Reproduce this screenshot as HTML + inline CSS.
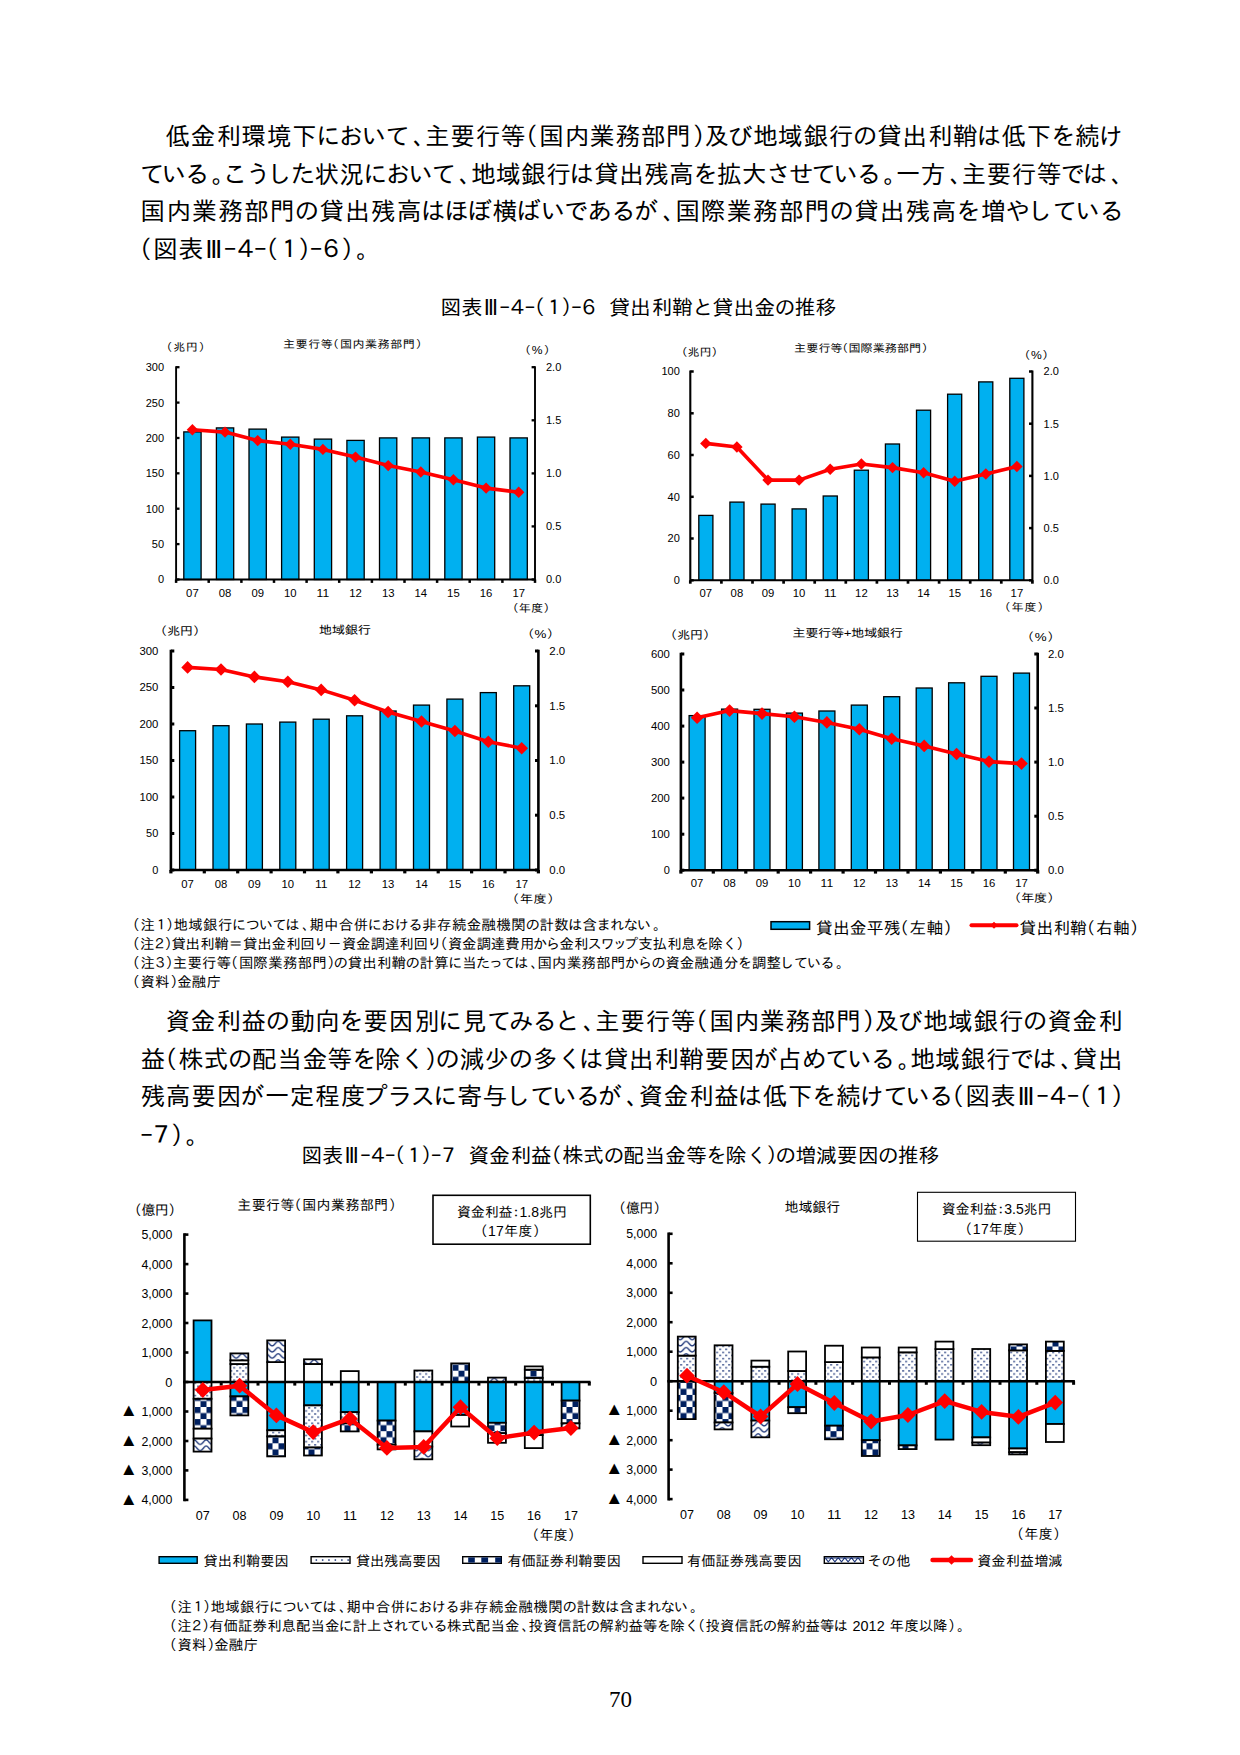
<!DOCTYPE html>
<html lang="ja"><head><meta charset="utf-8"><title>図表Ⅲ-4-(1)-6</title>
<style>html,body{margin:0;padding:0;background:#fff}svg{display:block}text{font-family:'Liberation Sans','IPAGothic',sans-serif;fill:#000;white-space:pre}</style></head>
<body><svg width="1240" height="1755" viewBox="0 0 1240 1755">
<defs>
<pattern id="pd" x="2.35" y="2.6" width="6" height="6.16" patternUnits="userSpaceOnUse"><rect width="6" height="6.16" fill="#fff"/><rect x="0" y="0" width="1.55" height="1.55" fill="#1b3478"/><rect x="3" y="3.08" width="1.55" height="1.55" fill="#1b3478"/></pattern>
<pattern id="pc" x="2.5" y="3.4" width="12" height="12.1" patternUnits="userSpaceOnUse"><rect width="12" height="12.1" fill="#fff"/><rect width="6" height="6.05" fill="#002060"/><rect x="6" y="6.05" width="6" height="6.05" fill="#002060"/></pattern>
<pattern id="pv" x="8.2" y="3.9" width="12" height="6.16" patternUnits="userSpaceOnUse"><rect width="12" height="6.16" fill="#fff"/><path d="M-6 0.7 C-3.6 0.7 -2.4 5.3 0 5.3 S3.6 0.7 6 0.7 S9.6 5.3 12 5.3 S15.6 0.7 18 0.7 M-6 6.86 C-3.6 6.86 -2.4 11.46 0 11.46 S3.6 6.86 6 6.86 S9.6 11.46 12 11.46 M0 -0.86 C2.4 -0.86 3.6 -5.46 6 -5.46 S9.6 -0.86 12 -0.86" fill="none" stroke="#1b3478" stroke-width="1.4"/></pattern>
</defs>
<text x="165.6 190.6 216.7 241.5 266.9 292.1 315.9 338.8 361.6 385.4 412.7 424.9 450.3 475.7 501.1 512.9 539.3 564.7 590.1 615.4 641.0 666.1 692.4 704.2 728.1 752.7 778.0 803.2 828.8 852.8 877.1 902.3 928.3 952.8 976.5 1001.5 1026.6 1050.7 1074.9 1098.5" y="145.4" font-size="24.80" fill="#000">低金利環境下において、主要行等（国内業務部門）及び地域銀行の貸出利鞘は低下を続け</text>
<text x="139.9 161.5 184.7 211.5 222.8 246.1 266.4 290.7 314.5 339.6 363.1 385.8 408.3 431.8 458.8 470.8 495.9 520.8 546.2 569.3 593.9 618.9 643.9 669.0 692.9 716.7 741.7 766.2 788.4 811.5 833.2 856.4 883.2 895.7 920.8 949.6 961.5 986.6 1011.8 1036.9 1060.5 1082.6 1110.8" y="182.9" font-size="24.80" fill="#000">ている。こうした状況において、地域銀行は貸出残高を拡大させている。一方、主要行等では、</text>
<text x="140.5 166.4 192.3 218.2 244.2 269.9 294.4 319.3 345.0 370.8 396.7 420.7 444.2 466.9 492.8 516.1 540.4 564.0 587.6 611.1 633.4 662.6 675.4 700.8 727.1 753.0 779.1 804.7 829.2 854.1 879.8 905.6 931.5 956.1 981.3 1005.6 1027.1 1052.8 1075.2 1099.2" y="220.4" font-size="24.80" fill="#000">国内業務部門の貸出残高はほぼ横ばいであるが、国際業務部門の貸出残高を増やしている</text>
<text x="127.1 153.3 178.7 205.2 224.1 233.7 254.2 253.6 277.0 298.1 309.9 318.8 341.1 356.1" y="257.9" font-size="24.80" fill="#000">（図表<tspan style="font-family:'DejaVu Sans',sans-serif">Ⅲ</tspan><tspan style="font-family:'IPAGothic',sans-serif">−</tspan>４<tspan style="font-family:'IPAGothic',sans-serif">−</tspan>（１）<tspan style="font-family:'IPAGothic',sans-serif">−</tspan>６）。</text>
<text x="165.6 190.6 216.7 241.3 265.4 289.9 315.0 339.1 363.2 388.6 414.5 437.7 462.2 486.9 508.8 532.3 555.0 582.7 595.0 620.3 645.8 671.1 683.0 709.4 734.7 760.1 785.5 811.0 836.2 862.5 874.3 898.1 922.7 948.1 973.3 998.9 1022.8 1047.3 1072.3 1098.4" y="1029.5" font-size="24.80" fill="#000">資金利益の動向を要因別に見てみると、主要行等（国内業務部門）及び地域銀行の資金利</text>
<text x="140.4 152.4 178.6 203.6 227.8 251.7 277.4 302.4 327.8 351.7 375.0 400.5 424.8 435.3 459.4 484.3 508.6 533.0 557.5 578.8 603.7 628.8 654.7 679.0 704.5 729.8 752.9 777.0 802.0 825.2 847.0 870.4 897.4 910.1 935.3 960.4 985.9 1009.7 1032.0 1060.3 1072.6 1097.7" y="1068.1" font-size="24.80" fill="#000">益（株式の配当金等を除く）の減少の多くは貸出利鞘要因が占めている。地域銀行では、貸出</text>
<text x="140.4 165.8 191.2 216.5 239.7 264.7 289.7 315.4 341.0 363.0 387.6 410.6 433.0 457.4 482.7 505.2 530.2 552.1 575.6 597.3 626.0 638.5 663.4 689.5 714.1 737.6 762.7 787.7 811.7 835.9 859.5 883.4 905.3 928.7 939.2 965.5 991.0 1017.5 1036.5 1046.3 1066.9 1066.4 1089.9 1111.1" y="1104.9" font-size="24.80" fill="#000">残高要因が一定程度プラスに寄与しているが、資金利益は低下を続けている（図表<tspan style="font-family:'DejaVu Sans',sans-serif">Ⅲ</tspan><tspan style="font-family:'IPAGothic',sans-serif">−</tspan>４<tspan style="font-family:'IPAGothic',sans-serif">−</tspan>（１）</text>
<text x="140.5 149.1 170.8 185.4" y="1144.0" font-size="24.80" fill="#000"><tspan style="font-family:'IPAGothic',sans-serif">−</tspan>７）。</text>
<text x="440.5 461.7 483.8 499.6 507.6 524.7 524.1 543.7 561.3 571.2 578.5 592.1 609.2 630.1 651.8 672.1 692.4 712.5 733.5 754.5 774.5 794.7 815.8" y="314.6" font-size="20.80" fill="#000">図表<tspan style="font-family:'DejaVu Sans',sans-serif">Ⅲ</tspan><tspan style="font-family:'IPAGothic',sans-serif">−</tspan>４<tspan style="font-family:'IPAGothic',sans-serif">−</tspan>（１）<tspan style="font-family:'IPAGothic',sans-serif">−</tspan>６　貸出利鞘と貸出金の推移</text>
<text x="301.5 322.6 344.5 360.2 368.1 385.0 384.3 403.7 421.2 430.9 438.3 451.5 468.5 489.2 510.8 531.1 540.8 562.6 583.3 603.4 623.2 644.5 665.2 686.2 706.0 725.4 746.5 766.6 775.2 795.6 816.1 837.0 858.0 877.8 897.9 918.8" y="1163.2" font-size="20.80" fill="#000">図表<tspan style="font-family:'DejaVu Sans',sans-serif">Ⅲ</tspan><tspan style="font-family:'IPAGothic',sans-serif">−</tspan>４<tspan style="font-family:'IPAGothic',sans-serif">−</tspan>（１）<tspan style="font-family:'IPAGothic',sans-serif">−</tspan>７　資金利益（株式の配当金等を除く）の増減要因の推移</text>
<rect x="183.8" y="431.9" width="17.3" height="147.6" fill="#00B0F0" stroke="#000" stroke-width="1.3"/>
<rect x="216.4" y="427.9" width="17.3" height="151.6" fill="#00B0F0" stroke="#000" stroke-width="1.3"/>
<rect x="249.0" y="429.1" width="17.3" height="150.4" fill="#00B0F0" stroke="#000" stroke-width="1.3"/>
<rect x="281.6" y="437.1" width="17.3" height="142.4" fill="#00B0F0" stroke="#000" stroke-width="1.3"/>
<rect x="314.3" y="439.1" width="17.3" height="140.4" fill="#00B0F0" stroke="#000" stroke-width="1.3"/>
<rect x="346.9" y="440.4" width="17.3" height="139.1" fill="#00B0F0" stroke="#000" stroke-width="1.3"/>
<rect x="379.5" y="437.9" width="17.3" height="141.6" fill="#00B0F0" stroke="#000" stroke-width="1.3"/>
<rect x="412.2" y="437.9" width="17.3" height="141.6" fill="#00B0F0" stroke="#000" stroke-width="1.3"/>
<rect x="444.8" y="437.9" width="17.3" height="141.6" fill="#00B0F0" stroke="#000" stroke-width="1.3"/>
<rect x="477.4" y="437.1" width="17.3" height="142.4" fill="#00B0F0" stroke="#000" stroke-width="1.3"/>
<rect x="510.0" y="437.9" width="17.3" height="141.6" fill="#00B0F0" stroke="#000" stroke-width="1.3"/>
<path d="M176.1 366.2 V579.5 H535.0 V366.2" fill="none" stroke="#000" stroke-width="1.9"/>
<path d="M176.1 579.5 h3.4" stroke="#000" stroke-width="2.3"/>
<text x="164.1" y="583.4" font-size="11.00" text-anchor="end" fill="#000">0</text>
<path d="M176.1 544.1 h3.4" stroke="#000" stroke-width="2.3"/>
<text x="164.1" y="548.0" font-size="11.00" text-anchor="end" fill="#000">50</text>
<path d="M176.1 508.7 h3.4" stroke="#000" stroke-width="2.3"/>
<text x="164.1" y="512.6" font-size="11.00" text-anchor="end" fill="#000">100</text>
<path d="M176.1 473.3 h3.4" stroke="#000" stroke-width="2.3"/>
<text x="164.1" y="477.2" font-size="11.00" text-anchor="end" fill="#000">150</text>
<path d="M176.1 438.0 h3.4" stroke="#000" stroke-width="2.3"/>
<text x="164.1" y="441.9" font-size="11.00" text-anchor="end" fill="#000">200</text>
<path d="M176.1 402.6 h3.4" stroke="#000" stroke-width="2.3"/>
<text x="164.1" y="406.5" font-size="11.00" text-anchor="end" fill="#000">250</text>
<path d="M176.1 367.2 h3.4" stroke="#000" stroke-width="2.3"/>
<text x="164.1" y="371.1" font-size="11.00" text-anchor="end" fill="#000">300</text>
<path d="M535.0 579.5 h-3.4" stroke="#000" stroke-width="2.3"/>
<text x="546.0" y="583.4" font-size="11.00" fill="#000">0.0</text>
<path d="M535.0 526.4 h-3.4" stroke="#000" stroke-width="2.3"/>
<text x="546.0" y="530.3" font-size="11.00" fill="#000">0.5</text>
<path d="M535.0 473.4 h-3.4" stroke="#000" stroke-width="2.3"/>
<text x="546.0" y="477.2" font-size="11.00" fill="#000">1.0</text>
<path d="M535.0 420.3 h-3.4" stroke="#000" stroke-width="2.3"/>
<text x="546.0" y="424.2" font-size="11.00" fill="#000">1.5</text>
<path d="M535.0 367.2 h-3.4" stroke="#000" stroke-width="2.3"/>
<text x="546.0" y="371.1" font-size="11.00" fill="#000">2.0</text>
<path d="M176.1 579.5 v3.4" stroke="#000" stroke-width="2.5"/>
<path d="M208.7 579.5 v3.4" stroke="#000" stroke-width="2.5"/>
<path d="M241.4 579.5 v3.4" stroke="#000" stroke-width="2.5"/>
<path d="M274.0 579.5 v3.4" stroke="#000" stroke-width="2.5"/>
<path d="M306.6 579.5 v3.4" stroke="#000" stroke-width="2.5"/>
<path d="M339.2 579.5 v3.4" stroke="#000" stroke-width="2.5"/>
<path d="M371.9 579.5 v3.4" stroke="#000" stroke-width="2.5"/>
<path d="M404.5 579.5 v3.4" stroke="#000" stroke-width="2.5"/>
<path d="M437.1 579.5 v3.4" stroke="#000" stroke-width="2.5"/>
<path d="M469.7 579.5 v3.4" stroke="#000" stroke-width="2.5"/>
<path d="M502.4 579.5 v3.4" stroke="#000" stroke-width="2.5"/>
<path d="M535.0 579.5 v3.4" stroke="#000" stroke-width="2.5"/>
<text x="192.4" y="597.0" font-size="11.00" text-anchor="middle" textLength="12.6" lengthAdjust="spacingAndGlyphs" fill="#000">07</text>
<text x="225.0" y="597.0" font-size="11.00" text-anchor="middle" textLength="12.6" lengthAdjust="spacingAndGlyphs" fill="#000">08</text>
<text x="257.7" y="597.0" font-size="11.00" text-anchor="middle" textLength="12.6" lengthAdjust="spacingAndGlyphs" fill="#000">09</text>
<text x="290.3" y="597.0" font-size="11.00" text-anchor="middle" textLength="12.6" lengthAdjust="spacingAndGlyphs" fill="#000">10</text>
<text x="322.9" y="597.0" font-size="11.00" text-anchor="middle" textLength="12.6" lengthAdjust="spacingAndGlyphs" fill="#000">11</text>
<text x="355.5" y="597.0" font-size="11.00" text-anchor="middle" textLength="12.6" lengthAdjust="spacingAndGlyphs" fill="#000">12</text>
<text x="388.2" y="597.0" font-size="11.00" text-anchor="middle" textLength="12.6" lengthAdjust="spacingAndGlyphs" fill="#000">13</text>
<text x="420.8" y="597.0" font-size="11.00" text-anchor="middle" textLength="12.6" lengthAdjust="spacingAndGlyphs" fill="#000">14</text>
<text x="453.4" y="597.0" font-size="11.00" text-anchor="middle" textLength="12.6" lengthAdjust="spacingAndGlyphs" fill="#000">15</text>
<text x="486.1" y="597.0" font-size="11.00" text-anchor="middle" textLength="12.6" lengthAdjust="spacingAndGlyphs" fill="#000">16</text>
<text x="518.7" y="597.0" font-size="11.00" text-anchor="middle" textLength="12.6" lengthAdjust="spacingAndGlyphs" fill="#000">17</text>
<polyline points="192.4,429.7 225.0,432.1 257.7,440.6 290.3,444.2 322.9,449.4 355.5,457.1 388.2,465.6 420.8,472.0 453.4,479.7 486.1,488.1 518.7,492.2" fill="none" stroke="#FF0000" stroke-width="3.6" stroke-linejoin="round" stroke-linecap="round"/>
<path d="M186.7 429.7 L192.4 424.0 L198.1 429.7 L192.4 435.4Z" fill="#FF0000"/>
<path d="M219.3 432.1 L225.0 426.4 L230.7 432.1 L225.0 437.8Z" fill="#FF0000"/>
<path d="M252.0 440.6 L257.7 434.9 L263.4 440.6 L257.7 446.3Z" fill="#FF0000"/>
<path d="M284.6 444.2 L290.3 438.5 L296.0 444.2 L290.3 449.9Z" fill="#FF0000"/>
<path d="M317.2 449.4 L322.9 443.7 L328.6 449.4 L322.9 455.1Z" fill="#FF0000"/>
<path d="M349.8 457.1 L355.5 451.4 L361.2 457.1 L355.5 462.8Z" fill="#FF0000"/>
<path d="M382.5 465.6 L388.2 459.9 L393.9 465.6 L388.2 471.3Z" fill="#FF0000"/>
<path d="M415.1 472.0 L420.8 466.3 L426.5 472.0 L420.8 477.7Z" fill="#FF0000"/>
<path d="M447.7 479.7 L453.4 474.0 L459.1 479.7 L453.4 485.4Z" fill="#FF0000"/>
<path d="M480.4 488.1 L486.1 482.4 L491.8 488.1 L486.1 493.8Z" fill="#FF0000"/>
<path d="M513.0 492.2 L518.7 486.5 L524.4 492.2 L518.7 497.9Z" fill="#FF0000"/>
<text x="145.6 157.5 168.9 180.8" y="351.0" font-size="11.00" fill="#000" transform="scale(1.100 1)">（兆円）</text>
<text x="257.3 268.7 280.2 291.6 297.1 309.0 320.4 331.9 343.3 354.8 366.2 378.0" y="348.5" font-size="11.00" fill="#000" transform="scale(1.100 1)">主要行等（国内業務部門）</text>
<text x="471.5 483.5 494.3" y="354.0" font-size="11.00" fill="#000" transform="scale(1.100 1)">（%）</text>
<text x="460.4 471.7 482.9 494.0" y="612.0" font-size="11.00" fill="#000" transform="scale(1.100 1)">（年度）</text>
<rect x="698.8" y="515.4" width="14.1" height="64.9" fill="#00B0F0" stroke="#000" stroke-width="1.3"/>
<rect x="729.9" y="502.1" width="14.1" height="78.2" fill="#00B0F0" stroke="#000" stroke-width="1.3"/>
<rect x="761.0" y="504.1" width="14.1" height="76.2" fill="#00B0F0" stroke="#000" stroke-width="1.3"/>
<rect x="792.1" y="508.9" width="14.1" height="71.4" fill="#00B0F0" stroke="#000" stroke-width="1.3"/>
<rect x="823.2" y="496.0" width="14.1" height="84.3" fill="#00B0F0" stroke="#000" stroke-width="1.3"/>
<rect x="854.3" y="470.2" width="14.1" height="110.1" fill="#00B0F0" stroke="#000" stroke-width="1.3"/>
<rect x="885.4" y="444.0" width="14.1" height="136.3" fill="#00B0F0" stroke="#000" stroke-width="1.3"/>
<rect x="916.5" y="410.2" width="14.1" height="170.1" fill="#00B0F0" stroke="#000" stroke-width="1.3"/>
<rect x="947.6" y="394.2" width="14.1" height="186.1" fill="#00B0F0" stroke="#000" stroke-width="1.3"/>
<rect x="978.7" y="381.9" width="14.1" height="198.4" fill="#00B0F0" stroke="#000" stroke-width="1.3"/>
<rect x="1009.8" y="378.3" width="14.1" height="202.0" fill="#00B0F0" stroke="#000" stroke-width="1.3"/>
<path d="M690.3 370.4 V580.3 H1032.4 V370.4" fill="none" stroke="#000" stroke-width="2.1"/>
<path d="M690.3 580.3 h3.4" stroke="#000" stroke-width="2.5"/>
<text x="679.8" y="584.2" font-size="11.00" text-anchor="end" fill="#000">0</text>
<path d="M690.3 538.5 h3.4" stroke="#000" stroke-width="2.5"/>
<text x="679.8" y="542.4" font-size="11.00" text-anchor="end" fill="#000">20</text>
<path d="M690.3 496.8 h3.4" stroke="#000" stroke-width="2.5"/>
<text x="679.8" y="500.7" font-size="11.00" text-anchor="end" fill="#000">40</text>
<path d="M690.3 455.0 h3.4" stroke="#000" stroke-width="2.5"/>
<text x="679.8" y="458.9" font-size="11.00" text-anchor="end" fill="#000">60</text>
<path d="M690.3 413.3 h3.4" stroke="#000" stroke-width="2.5"/>
<text x="679.8" y="417.2" font-size="11.00" text-anchor="end" fill="#000">80</text>
<path d="M690.3 371.5 h3.4" stroke="#000" stroke-width="2.5"/>
<text x="679.8" y="375.4" font-size="11.00" text-anchor="end" fill="#000">100</text>
<path d="M1032.4 580.3 h-3.4" stroke="#000" stroke-width="2.5"/>
<text x="1043.6" y="584.2" font-size="11.00" fill="#000">0.0</text>
<path d="M1032.4 528.1 h-3.4" stroke="#000" stroke-width="2.5"/>
<text x="1043.6" y="532.0" font-size="11.00" fill="#000">0.5</text>
<path d="M1032.4 475.9 h-3.4" stroke="#000" stroke-width="2.5"/>
<text x="1043.6" y="479.8" font-size="11.00" fill="#000">1.0</text>
<path d="M1032.4 423.7 h-3.4" stroke="#000" stroke-width="2.5"/>
<text x="1043.6" y="427.6" font-size="11.00" fill="#000">1.5</text>
<path d="M1032.4 371.5 h-3.4" stroke="#000" stroke-width="2.5"/>
<text x="1043.6" y="375.4" font-size="11.00" fill="#000">2.0</text>
<path d="M690.3 580.3 v3.4" stroke="#000" stroke-width="2.7"/>
<path d="M721.4 580.3 v3.4" stroke="#000" stroke-width="2.7"/>
<path d="M752.5 580.3 v3.4" stroke="#000" stroke-width="2.7"/>
<path d="M783.6 580.3 v3.4" stroke="#000" stroke-width="2.7"/>
<path d="M814.7 580.3 v3.4" stroke="#000" stroke-width="2.7"/>
<path d="M845.8 580.3 v3.4" stroke="#000" stroke-width="2.7"/>
<path d="M876.9 580.3 v3.4" stroke="#000" stroke-width="2.7"/>
<path d="M908.0 580.3 v3.4" stroke="#000" stroke-width="2.7"/>
<path d="M939.1 580.3 v3.4" stroke="#000" stroke-width="2.7"/>
<path d="M970.2 580.3 v3.4" stroke="#000" stroke-width="2.7"/>
<path d="M1001.3 580.3 v3.4" stroke="#000" stroke-width="2.7"/>
<path d="M1032.4 580.3 v3.4" stroke="#000" stroke-width="2.7"/>
<text x="705.8" y="597.4" font-size="11.00" text-anchor="middle" textLength="12.6" lengthAdjust="spacingAndGlyphs" fill="#000">07</text>
<text x="736.9" y="597.4" font-size="11.00" text-anchor="middle" textLength="12.6" lengthAdjust="spacingAndGlyphs" fill="#000">08</text>
<text x="768.0" y="597.4" font-size="11.00" text-anchor="middle" textLength="12.6" lengthAdjust="spacingAndGlyphs" fill="#000">09</text>
<text x="799.1" y="597.4" font-size="11.00" text-anchor="middle" textLength="12.6" lengthAdjust="spacingAndGlyphs" fill="#000">10</text>
<text x="830.2" y="597.4" font-size="11.00" text-anchor="middle" textLength="12.6" lengthAdjust="spacingAndGlyphs" fill="#000">11</text>
<text x="861.4" y="597.4" font-size="11.00" text-anchor="middle" textLength="12.6" lengthAdjust="spacingAndGlyphs" fill="#000">12</text>
<text x="892.5" y="597.4" font-size="11.00" text-anchor="middle" textLength="12.6" lengthAdjust="spacingAndGlyphs" fill="#000">13</text>
<text x="923.6" y="597.4" font-size="11.00" text-anchor="middle" textLength="12.6" lengthAdjust="spacingAndGlyphs" fill="#000">14</text>
<text x="954.7" y="597.4" font-size="11.00" text-anchor="middle" textLength="12.6" lengthAdjust="spacingAndGlyphs" fill="#000">15</text>
<text x="985.8" y="597.4" font-size="11.00" text-anchor="middle" textLength="12.6" lengthAdjust="spacingAndGlyphs" fill="#000">16</text>
<text x="1016.9" y="597.4" font-size="11.00" text-anchor="middle" textLength="12.6" lengthAdjust="spacingAndGlyphs" fill="#000">17</text>
<polyline points="705.8,443.4 736.9,447.0 768.0,480.1 799.1,480.1 830.2,469.2 861.4,464.0 892.5,467.6 923.6,472.8 954.7,481.3 985.8,474.0 1016.9,466.5" fill="none" stroke="#FF0000" stroke-width="3.6" stroke-linejoin="round" stroke-linecap="round"/>
<path d="M700.1 443.4 L705.8 437.7 L711.5 443.4 L705.8 449.1Z" fill="#FF0000"/>
<path d="M731.2 447.0 L736.9 441.3 L742.6 447.0 L736.9 452.7Z" fill="#FF0000"/>
<path d="M762.3 480.1 L768.0 474.4 L773.8 480.1 L768.0 485.8Z" fill="#FF0000"/>
<path d="M793.4 480.1 L799.1 474.4 L804.9 480.1 L799.1 485.8Z" fill="#FF0000"/>
<path d="M824.5 469.2 L830.2 463.5 L836.0 469.2 L830.2 474.9Z" fill="#FF0000"/>
<path d="M855.6 464.0 L861.4 458.3 L867.1 464.0 L861.4 469.7Z" fill="#FF0000"/>
<path d="M886.8 467.6 L892.5 461.9 L898.2 467.6 L892.5 473.3Z" fill="#FF0000"/>
<path d="M917.9 472.8 L923.6 467.1 L929.3 472.8 L923.6 478.5Z" fill="#FF0000"/>
<path d="M949.0 481.3 L954.7 475.6 L960.4 481.3 L954.7 487.0Z" fill="#FF0000"/>
<path d="M980.0 474.0 L985.8 468.3 L991.5 474.0 L985.8 479.7Z" fill="#FF0000"/>
<path d="M1011.2 466.5 L1016.9 460.8 L1022.6 466.5 L1016.9 472.2Z" fill="#FF0000"/>
<text x="614.0 625.1 635.8 646.9" y="355.6" font-size="11.00" fill="#000" transform="scale(1.100 1)">（兆円）</text>
<text x="721.9 732.9 744.0 755.0 760.0 771.4 782.2 793.4 804.4 815.5 826.4 837.9" y="352.4" font-size="11.00" fill="#000" transform="scale(1.100 1)">主要行等（国際業務部門）</text>
<text x="925.6 937.2 947.5" y="359.4" font-size="11.00" fill="#000" transform="scale(1.100 1)">（%）</text>
<text x="907.7 919.5 931.3 943.1" y="611.0" font-size="11.00" fill="#000" transform="scale(1.100 1)">（年度）</text>
<rect x="179.6" y="730.7" width="16.0" height="139.3" fill="#00B0F0" stroke="#000" stroke-width="1.3"/>
<rect x="213.0" y="725.7" width="16.0" height="144.3" fill="#00B0F0" stroke="#000" stroke-width="1.3"/>
<rect x="246.4" y="724.0" width="16.0" height="146.0" fill="#00B0F0" stroke="#000" stroke-width="1.3"/>
<rect x="279.8" y="722.1" width="16.0" height="147.9" fill="#00B0F0" stroke="#000" stroke-width="1.3"/>
<rect x="313.2" y="719.2" width="16.0" height="150.8" fill="#00B0F0" stroke="#000" stroke-width="1.3"/>
<rect x="346.6" y="715.8" width="16.0" height="154.2" fill="#00B0F0" stroke="#000" stroke-width="1.3"/>
<rect x="380.1" y="711.0" width="16.0" height="159.0" fill="#00B0F0" stroke="#000" stroke-width="1.3"/>
<rect x="413.5" y="705.1" width="16.0" height="164.9" fill="#00B0F0" stroke="#000" stroke-width="1.3"/>
<rect x="446.9" y="699.1" width="16.0" height="170.9" fill="#00B0F0" stroke="#000" stroke-width="1.3"/>
<rect x="480.3" y="692.6" width="16.0" height="177.4" fill="#00B0F0" stroke="#000" stroke-width="1.3"/>
<rect x="513.7" y="685.8" width="16.0" height="184.2" fill="#00B0F0" stroke="#000" stroke-width="1.3"/>
<path d="M170.9 649.7 V870.0 H538.4 V649.7" fill="none" stroke="#000" stroke-width="2.6"/>
<path d="M170.9 870.0 h3.4" stroke="#000" stroke-width="3.0"/>
<text x="158.3" y="873.9" font-size="11.00" text-anchor="end" fill="#000">0</text>
<path d="M170.9 833.5 h3.4" stroke="#000" stroke-width="3.0"/>
<text x="158.3" y="837.4" font-size="11.00" text-anchor="end" fill="#000">50</text>
<path d="M170.9 797.0 h3.4" stroke="#000" stroke-width="3.0"/>
<text x="158.3" y="800.9" font-size="11.00" text-anchor="end" textLength="18.9" lengthAdjust="spacingAndGlyphs" fill="#000">100</text>
<path d="M170.9 760.5 h3.4" stroke="#000" stroke-width="3.0"/>
<text x="158.3" y="764.4" font-size="11.00" text-anchor="end" textLength="18.9" lengthAdjust="spacingAndGlyphs" fill="#000">150</text>
<path d="M170.9 724.0 h3.4" stroke="#000" stroke-width="3.0"/>
<text x="158.3" y="727.9" font-size="11.00" text-anchor="end" textLength="18.9" lengthAdjust="spacingAndGlyphs" fill="#000">200</text>
<path d="M170.9 687.5 h3.4" stroke="#000" stroke-width="3.0"/>
<text x="158.3" y="691.4" font-size="11.00" text-anchor="end" textLength="18.9" lengthAdjust="spacingAndGlyphs" fill="#000">250</text>
<path d="M170.9 651.0 h3.4" stroke="#000" stroke-width="3.0"/>
<text x="158.3" y="654.9" font-size="11.00" text-anchor="end" textLength="18.9" lengthAdjust="spacingAndGlyphs" fill="#000">300</text>
<path d="M538.4 870.0 h-3.4" stroke="#000" stroke-width="3.0"/>
<text x="549.3" y="873.9" font-size="11.00" textLength="15.9" lengthAdjust="spacingAndGlyphs" fill="#000">0.0</text>
<path d="M538.4 815.2 h-3.4" stroke="#000" stroke-width="3.0"/>
<text x="549.3" y="819.1" font-size="11.00" textLength="15.9" lengthAdjust="spacingAndGlyphs" fill="#000">0.5</text>
<path d="M538.4 760.5 h-3.4" stroke="#000" stroke-width="3.0"/>
<text x="549.3" y="764.4" font-size="11.00" textLength="15.9" lengthAdjust="spacingAndGlyphs" fill="#000">1.0</text>
<path d="M538.4 705.8 h-3.4" stroke="#000" stroke-width="3.0"/>
<text x="549.3" y="709.6" font-size="11.00" textLength="15.9" lengthAdjust="spacingAndGlyphs" fill="#000">1.5</text>
<path d="M538.4 651.0 h-3.4" stroke="#000" stroke-width="3.0"/>
<text x="549.3" y="654.9" font-size="11.00" textLength="15.9" lengthAdjust="spacingAndGlyphs" fill="#000">2.0</text>
<path d="M170.9 870.0 v3.4" stroke="#000" stroke-width="3.2"/>
<path d="M204.3 870.0 v3.4" stroke="#000" stroke-width="3.2"/>
<path d="M237.7 870.0 v3.4" stroke="#000" stroke-width="3.2"/>
<path d="M271.1 870.0 v3.4" stroke="#000" stroke-width="3.2"/>
<path d="M304.5 870.0 v3.4" stroke="#000" stroke-width="3.2"/>
<path d="M337.9 870.0 v3.4" stroke="#000" stroke-width="3.2"/>
<path d="M371.4 870.0 v3.4" stroke="#000" stroke-width="3.2"/>
<path d="M404.8 870.0 v3.4" stroke="#000" stroke-width="3.2"/>
<path d="M438.2 870.0 v3.4" stroke="#000" stroke-width="3.2"/>
<path d="M471.6 870.0 v3.4" stroke="#000" stroke-width="3.2"/>
<path d="M505.0 870.0 v3.4" stroke="#000" stroke-width="3.2"/>
<path d="M538.4 870.0 v3.4" stroke="#000" stroke-width="3.2"/>
<text x="187.6" y="888.2" font-size="11.00" text-anchor="middle" textLength="12.6" lengthAdjust="spacingAndGlyphs" fill="#000">07</text>
<text x="221.0" y="888.2" font-size="11.00" text-anchor="middle" textLength="12.6" lengthAdjust="spacingAndGlyphs" fill="#000">08</text>
<text x="254.4" y="888.2" font-size="11.00" text-anchor="middle" textLength="12.6" lengthAdjust="spacingAndGlyphs" fill="#000">09</text>
<text x="287.8" y="888.2" font-size="11.00" text-anchor="middle" textLength="12.6" lengthAdjust="spacingAndGlyphs" fill="#000">10</text>
<text x="321.2" y="888.2" font-size="11.00" text-anchor="middle" textLength="12.6" lengthAdjust="spacingAndGlyphs" fill="#000">11</text>
<text x="354.6" y="888.2" font-size="11.00" text-anchor="middle" textLength="12.6" lengthAdjust="spacingAndGlyphs" fill="#000">12</text>
<text x="388.1" y="888.2" font-size="11.00" text-anchor="middle" textLength="12.6" lengthAdjust="spacingAndGlyphs" fill="#000">13</text>
<text x="421.5" y="888.2" font-size="11.00" text-anchor="middle" textLength="12.6" lengthAdjust="spacingAndGlyphs" fill="#000">14</text>
<text x="454.9" y="888.2" font-size="11.00" text-anchor="middle" textLength="12.6" lengthAdjust="spacingAndGlyphs" fill="#000">15</text>
<text x="488.3" y="888.2" font-size="11.00" text-anchor="middle" textLength="12.6" lengthAdjust="spacingAndGlyphs" fill="#000">16</text>
<text x="521.7" y="888.2" font-size="11.00" text-anchor="middle" textLength="12.6" lengthAdjust="spacingAndGlyphs" fill="#000">17</text>
<polyline points="187.6,667.4 221.0,669.5 254.4,676.9 287.8,681.7 321.2,689.9 354.6,700.3 388.1,712.0 421.5,721.5 454.9,731.0 488.3,741.7 521.7,748.2" fill="none" stroke="#FF0000" stroke-width="3.6" stroke-linejoin="round" stroke-linecap="round"/>
<path d="M181.3 667.4 L187.6 661.1 L193.9 667.4 L187.6 673.7Z" fill="#FF0000"/>
<path d="M214.7 669.5 L221.0 663.2 L227.3 669.5 L221.0 675.8Z" fill="#FF0000"/>
<path d="M248.1 676.9 L254.4 670.6 L260.7 676.9 L254.4 683.2Z" fill="#FF0000"/>
<path d="M281.5 681.7 L287.8 675.4 L294.1 681.7 L287.8 688.0Z" fill="#FF0000"/>
<path d="M314.9 689.9 L321.2 683.6 L327.5 689.9 L321.2 696.2Z" fill="#FF0000"/>
<path d="M348.3 700.3 L354.6 694.0 L360.9 700.3 L354.6 706.6Z" fill="#FF0000"/>
<path d="M381.8 712.0 L388.1 705.7 L394.4 712.0 L388.1 718.3Z" fill="#FF0000"/>
<path d="M415.2 721.5 L421.5 715.2 L427.8 721.5 L421.5 727.8Z" fill="#FF0000"/>
<path d="M448.6 731.0 L454.9 724.7 L461.2 731.0 L454.9 737.3Z" fill="#FF0000"/>
<path d="M482.0 741.7 L488.3 735.4 L494.6 741.7 L488.3 748.0Z" fill="#FF0000"/>
<path d="M515.4 748.2 L521.7 741.9 L528.0 748.2 L521.7 754.5Z" fill="#FF0000"/>
<text x="133.7 145.3 156.4 167.9" y="635.5" font-size="11.60" fill="#000" transform="scale(1.150 1)">（兆円）</text>
<text x="277.2 288.5 299.7 311.2" y="633.9" font-size="11.60" fill="#000" transform="scale(1.150 1)">地域銀行</text>
<text x="453.1 464.9 475.4" y="638.0" font-size="11.60" fill="#000" transform="scale(1.150 1)">（%）</text>
<text x="439.8 451.9 463.9 475.9" y="903.5" font-size="11.60" fill="#000" transform="scale(1.150 1)">（年度）</text>
<rect x="689.1" y="715.6" width="16.0" height="154.6" fill="#00B0F0" stroke="#000" stroke-width="1.3"/>
<rect x="721.6" y="709.1" width="16.0" height="161.1" fill="#00B0F0" stroke="#000" stroke-width="1.3"/>
<rect x="754.0" y="709.3" width="16.0" height="160.9" fill="#00B0F0" stroke="#000" stroke-width="1.3"/>
<rect x="786.4" y="713.1" width="16.0" height="157.1" fill="#00B0F0" stroke="#000" stroke-width="1.3"/>
<rect x="818.9" y="711.0" width="16.0" height="159.2" fill="#00B0F0" stroke="#000" stroke-width="1.3"/>
<rect x="851.3" y="705.1" width="16.0" height="165.1" fill="#00B0F0" stroke="#000" stroke-width="1.3"/>
<rect x="883.7" y="696.7" width="16.0" height="173.5" fill="#00B0F0" stroke="#000" stroke-width="1.3"/>
<rect x="916.2" y="688.0" width="16.0" height="182.2" fill="#00B0F0" stroke="#000" stroke-width="1.3"/>
<rect x="948.6" y="682.8" width="16.0" height="187.4" fill="#00B0F0" stroke="#000" stroke-width="1.3"/>
<rect x="981.0" y="676.3" width="16.0" height="193.9" fill="#00B0F0" stroke="#000" stroke-width="1.3"/>
<rect x="1013.5" y="673.1" width="16.0" height="197.1" fill="#00B0F0" stroke="#000" stroke-width="1.3"/>
<path d="M680.9 652.7 V870.2 H1037.7 V652.7" fill="none" stroke="#000" stroke-width="2.6"/>
<path d="M680.9 870.2 h3.4" stroke="#000" stroke-width="3.0"/>
<text x="669.8" y="874.1" font-size="11.00" text-anchor="end" fill="#000">0</text>
<path d="M680.9 834.2 h3.4" stroke="#000" stroke-width="3.0"/>
<text x="669.8" y="838.1" font-size="11.00" text-anchor="end" textLength="18.9" lengthAdjust="spacingAndGlyphs" fill="#000">100</text>
<path d="M680.9 798.1 h3.4" stroke="#000" stroke-width="3.0"/>
<text x="669.8" y="802.0" font-size="11.00" text-anchor="end" textLength="18.9" lengthAdjust="spacingAndGlyphs" fill="#000">200</text>
<path d="M680.9 762.1 h3.4" stroke="#000" stroke-width="3.0"/>
<text x="669.8" y="766.0" font-size="11.00" text-anchor="end" textLength="18.9" lengthAdjust="spacingAndGlyphs" fill="#000">300</text>
<path d="M680.9 726.1 h3.4" stroke="#000" stroke-width="3.0"/>
<text x="669.8" y="730.0" font-size="11.00" text-anchor="end" textLength="18.9" lengthAdjust="spacingAndGlyphs" fill="#000">400</text>
<path d="M680.9 690.0 h3.4" stroke="#000" stroke-width="3.0"/>
<text x="669.8" y="693.9" font-size="11.00" text-anchor="end" textLength="18.9" lengthAdjust="spacingAndGlyphs" fill="#000">500</text>
<path d="M680.9 654.0 h3.4" stroke="#000" stroke-width="3.0"/>
<text x="669.8" y="657.9" font-size="11.00" text-anchor="end" textLength="18.9" lengthAdjust="spacingAndGlyphs" fill="#000">600</text>
<path d="M1037.7 870.2 h-3.4" stroke="#000" stroke-width="3.0"/>
<text x="1048.0" y="874.1" font-size="11.00" textLength="15.9" lengthAdjust="spacingAndGlyphs" fill="#000">0.0</text>
<path d="M1037.7 816.2 h-3.4" stroke="#000" stroke-width="3.0"/>
<text x="1048.0" y="820.1" font-size="11.00" textLength="15.9" lengthAdjust="spacingAndGlyphs" fill="#000">0.5</text>
<path d="M1037.7 762.1 h-3.4" stroke="#000" stroke-width="3.0"/>
<text x="1048.0" y="766.0" font-size="11.00" textLength="15.9" lengthAdjust="spacingAndGlyphs" fill="#000">1.0</text>
<path d="M1037.7 708.0 h-3.4" stroke="#000" stroke-width="3.0"/>
<text x="1048.0" y="711.9" font-size="11.00" textLength="15.9" lengthAdjust="spacingAndGlyphs" fill="#000">1.5</text>
<path d="M1037.7 654.0 h-3.4" stroke="#000" stroke-width="3.0"/>
<text x="1048.0" y="657.9" font-size="11.00" textLength="15.9" lengthAdjust="spacingAndGlyphs" fill="#000">2.0</text>
<path d="M680.9 870.2 v3.4" stroke="#000" stroke-width="3.2"/>
<path d="M713.3 870.2 v3.4" stroke="#000" stroke-width="3.2"/>
<path d="M745.8 870.2 v3.4" stroke="#000" stroke-width="3.2"/>
<path d="M778.2 870.2 v3.4" stroke="#000" stroke-width="3.2"/>
<path d="M810.6 870.2 v3.4" stroke="#000" stroke-width="3.2"/>
<path d="M843.1 870.2 v3.4" stroke="#000" stroke-width="3.2"/>
<path d="M875.5 870.2 v3.4" stroke="#000" stroke-width="3.2"/>
<path d="M908.0 870.2 v3.4" stroke="#000" stroke-width="3.2"/>
<path d="M940.4 870.2 v3.4" stroke="#000" stroke-width="3.2"/>
<path d="M972.8 870.2 v3.4" stroke="#000" stroke-width="3.2"/>
<path d="M1005.3 870.2 v3.4" stroke="#000" stroke-width="3.2"/>
<path d="M1037.7 870.2 v3.4" stroke="#000" stroke-width="3.2"/>
<text x="697.1" y="886.6" font-size="11.00" text-anchor="middle" textLength="12.6" lengthAdjust="spacingAndGlyphs" fill="#000">07</text>
<text x="729.6" y="886.6" font-size="11.00" text-anchor="middle" textLength="12.6" lengthAdjust="spacingAndGlyphs" fill="#000">08</text>
<text x="762.0" y="886.6" font-size="11.00" text-anchor="middle" textLength="12.6" lengthAdjust="spacingAndGlyphs" fill="#000">09</text>
<text x="794.4" y="886.6" font-size="11.00" text-anchor="middle" textLength="12.6" lengthAdjust="spacingAndGlyphs" fill="#000">10</text>
<text x="826.9" y="886.6" font-size="11.00" text-anchor="middle" textLength="12.6" lengthAdjust="spacingAndGlyphs" fill="#000">11</text>
<text x="859.3" y="886.6" font-size="11.00" text-anchor="middle" textLength="12.6" lengthAdjust="spacingAndGlyphs" fill="#000">12</text>
<text x="891.7" y="886.6" font-size="11.00" text-anchor="middle" textLength="12.6" lengthAdjust="spacingAndGlyphs" fill="#000">13</text>
<text x="924.2" y="886.6" font-size="11.00" text-anchor="middle" textLength="12.6" lengthAdjust="spacingAndGlyphs" fill="#000">14</text>
<text x="956.6" y="886.6" font-size="11.00" text-anchor="middle" textLength="12.6" lengthAdjust="spacingAndGlyphs" fill="#000">15</text>
<text x="989.0" y="886.6" font-size="11.00" text-anchor="middle" textLength="12.6" lengthAdjust="spacingAndGlyphs" fill="#000">16</text>
<text x="1021.5" y="886.6" font-size="11.00" text-anchor="middle" textLength="12.6" lengthAdjust="spacingAndGlyphs" fill="#000">17</text>
<polyline points="697.1,717.7 729.6,710.6 762.0,713.6 794.4,716.7 826.9,722.4 859.3,729.3 891.7,738.7 924.2,745.9 956.6,754.0 989.0,761.6 1021.5,763.6" fill="none" stroke="#FF0000" stroke-width="3.6" stroke-linejoin="round" stroke-linecap="round"/>
<path d="M690.8 717.7 L697.1 711.4 L703.4 717.7 L697.1 724.0Z" fill="#FF0000"/>
<path d="M723.3 710.6 L729.6 704.3 L735.9 710.6 L729.6 716.9Z" fill="#FF0000"/>
<path d="M755.7 713.6 L762.0 707.3 L768.3 713.6 L762.0 719.9Z" fill="#FF0000"/>
<path d="M788.1 716.7 L794.4 710.4 L800.7 716.7 L794.4 723.0Z" fill="#FF0000"/>
<path d="M820.6 722.4 L826.9 716.1 L833.2 722.4 L826.9 728.7Z" fill="#FF0000"/>
<path d="M853.0 729.3 L859.3 723.0 L865.6 729.3 L859.3 735.6Z" fill="#FF0000"/>
<path d="M885.4 738.7 L891.7 732.4 L898.0 738.7 L891.7 745.0Z" fill="#FF0000"/>
<path d="M917.9 745.9 L924.2 739.6 L930.5 745.9 L924.2 752.2Z" fill="#FF0000"/>
<path d="M950.3 754.0 L956.6 747.7 L962.9 754.0 L956.6 760.3Z" fill="#FF0000"/>
<path d="M982.7 761.6 L989.0 755.3 L995.3 761.6 L989.0 767.9Z" fill="#FF0000"/>
<path d="M1015.2 763.6 L1021.5 757.3 L1027.8 763.6 L1021.5 769.9Z" fill="#FF0000"/>
<text x="577.2 588.7 599.8 611.4" y="639.1" font-size="11.60" fill="#000" transform="scale(1.150 1)">（兆円）</text>
<text x="689.0 700.2 711.4 722.6 733.7 740.1 751.2 762.3 773.6" y="636.6" font-size="11.60" fill="#000" transform="scale(1.150 1)">主要行等+地域銀行</text>
<text x="887.6 899.7 910.6" y="641.5" font-size="11.60" fill="#000" transform="scale(1.150 1)">（%）</text>
<text x="876.3 887.8 899.2 910.6" y="902.3" font-size="11.60" fill="#000" transform="scale(1.150 1)">（年度）</text>
<rect x="771" y="921.7" width="38.6" height="7.6" fill="#00B0F0" stroke="#000" stroke-width="1.5"/>
<text x="816.1 832.9 849.8 866.8 883.7 891.7 909.5 926.4 943.8" y="934.0" font-size="16.70" fill="#000">貸出金平残（左軸）</text>
<path d="M971.5 925.3 H1016.5" stroke="#FF0000" stroke-width="4" stroke-linecap="round"/>
<path d="M990.5 925.3 L994.0 921.8 L997.5 925.3 L994.0 928.8Z" fill="#FF0000"/>
<text x="1019.6 1036.4 1053.8 1070.1 1078.2 1096.0 1112.9 1130.3" y="934.0" font-size="16.70" fill="#000">貸出利鞘（右軸）</text>
<text x="125.2 140.6 153.9 166.3 173.4 188.3 203.0 218.0 231.8 245.7 258.7 272.6 285.3 301.9 309.5 324.0 338.8 353.8 367.6 381.1 394.4 408.2 422.2 437.1 451.9 466.7 481.4 496.6 511.3 525.4 539.5 554.3 568.1 582.6 596.6 609.9 623.4 636.7 652.9" y="929.5" font-size="14.40" fill="#000">（注１）地域銀行については、期中合併における非存続金融機関の計数は含まれない。</text>
<text x="125.2 140.1 152.2 164.8 171.4 185.6 200.4 214.2 228.6 243.1 257.3 271.6 286.4 300.3 314.1 327.5 342.0 356.1 370.7 384.8 399.6 413.5 427.3 432.9 448.0 462.1 476.7 490.8 505.2 519.9 532.7 545.5 559.6 574.3 587.6 600.4 612.8 623.7 638.3 652.6 667.4 681.3 695.0 708.2 722.7 736.4" y="948.5" font-size="14.40" fill="#000">（注２）貸出利鞘＝貸出金利回り－資金調達利回り（資金調達費用から金利スワップ支払利息を除く）</text>
<text x="125.2 140.4 153.1 165.8 172.7 187.4 202.1 216.8 223.6 238.9 253.3 268.2 282.9 297.7 312.2 327.5 333.6 347.7 362.3 377.3 391.5 405.5 419.5 434.2 447.9 462.2 476.1 488.8 501.4 513.9 530.4 537.5 552.1 566.9 581.5 596.3 610.8 624.4 637.6 651.2 665.4 679.8 694.4 709.1 723.9 737.8 752.0 766.5 779.5 794.0 806.7 820.3 835.9" y="967.5" font-size="14.40" fill="#000">（注３）主要行等（国際業務部門）の貸出利鞘の計算に当たっては、国内業務部門からの資金融通分を調整している。</text>
<text x="125.2 140.6 155.1 170.4 177.2 191.8 206.6" y="986.5" font-size="14.40" fill="#000">（資料）金融庁</text>
<rect x="193.6" y="1320.4" width="17.9" height="61.6" fill="#00B0F0" stroke="#000" stroke-width="1.8"/>
<rect x="193.6" y="1382.0" width="17.9" height="16.8" fill="url(#pd)" stroke="#000" stroke-width="1.8"/>
<rect x="193.6" y="1398.8" width="17.9" height="29.9" fill="url(#pc)" stroke="#000" stroke-width="1.8"/>
<rect x="193.6" y="1428.7" width="17.9" height="9.9" fill="#fff" stroke="#000" stroke-width="1.8"/>
<rect x="193.6" y="1438.6" width="17.9" height="13.0" fill="url(#pv)" stroke="#000" stroke-width="1.8"/>
<rect x="230.4" y="1364.0" width="17.9" height="18.0" fill="url(#pd)" stroke="#000" stroke-width="1.8"/>
<rect x="230.4" y="1360.3" width="17.9" height="3.7" fill="#fff" stroke="#000" stroke-width="1.8"/>
<rect x="230.4" y="1353.4" width="17.9" height="6.9" fill="url(#pv)" stroke="#000" stroke-width="1.8"/>
<rect x="230.4" y="1382.0" width="17.9" height="14.4" fill="#00B0F0" stroke="#000" stroke-width="1.8"/>
<rect x="230.4" y="1396.4" width="17.9" height="19.0" fill="url(#pc)" stroke="#000" stroke-width="1.8"/>
<rect x="267.2" y="1362.1" width="17.9" height="19.9" fill="#fff" stroke="#000" stroke-width="1.8"/>
<rect x="267.2" y="1340.4" width="17.9" height="21.7" fill="url(#pv)" stroke="#000" stroke-width="1.8"/>
<rect x="267.2" y="1382.0" width="17.9" height="48.3" fill="#00B0F0" stroke="#000" stroke-width="1.8"/>
<rect x="267.2" y="1430.3" width="17.9" height="6.1" fill="url(#pd)" stroke="#000" stroke-width="1.8"/>
<rect x="267.2" y="1436.4" width="17.9" height="20.0" fill="url(#pc)" stroke="#000" stroke-width="1.8"/>
<rect x="304.0" y="1364.0" width="17.9" height="18.0" fill="#fff" stroke="#000" stroke-width="1.8"/>
<rect x="304.0" y="1359.3" width="17.9" height="4.7" fill="url(#pv)" stroke="#000" stroke-width="1.8"/>
<rect x="304.0" y="1382.0" width="17.9" height="23.4" fill="#00B0F0" stroke="#000" stroke-width="1.8"/>
<rect x="304.0" y="1405.4" width="17.9" height="42.2" fill="url(#pd)" stroke="#000" stroke-width="1.8"/>
<rect x="304.0" y="1447.5" width="17.9" height="8.0" fill="url(#pc)" stroke="#000" stroke-width="1.8"/>
<rect x="340.8" y="1371.1" width="17.9" height="10.9" fill="#fff" stroke="#000" stroke-width="1.8"/>
<rect x="340.8" y="1382.0" width="17.9" height="30.2" fill="#00B0F0" stroke="#000" stroke-width="1.8"/>
<rect x="340.8" y="1412.2" width="17.9" height="11.0" fill="url(#pd)" stroke="#000" stroke-width="1.8"/>
<rect x="340.8" y="1423.3" width="17.9" height="8.1" fill="url(#pc)" stroke="#000" stroke-width="1.8"/>
<rect x="377.6" y="1382.0" width="17.9" height="38.6" fill="#00B0F0" stroke="#000" stroke-width="1.8"/>
<rect x="377.6" y="1420.6" width="17.9" height="24.1" fill="url(#pc)" stroke="#000" stroke-width="1.8"/>
<rect x="377.6" y="1444.7" width="17.9" height="4.7" fill="#fff" stroke="#000" stroke-width="1.8"/>
<rect x="414.4" y="1370.5" width="17.9" height="11.5" fill="url(#pd)" stroke="#000" stroke-width="1.8"/>
<rect x="414.4" y="1382.0" width="17.9" height="49.4" fill="#00B0F0" stroke="#000" stroke-width="1.8"/>
<rect x="414.4" y="1431.4" width="17.9" height="15.2" fill="#fff" stroke="#000" stroke-width="1.8"/>
<rect x="414.4" y="1446.6" width="17.9" height="12.7" fill="url(#pv)" stroke="#000" stroke-width="1.8"/>
<rect x="451.2" y="1363.4" width="17.9" height="18.6" fill="url(#pc)" stroke="#000" stroke-width="1.8"/>
<rect x="451.2" y="1382.0" width="17.9" height="33.0" fill="#00B0F0" stroke="#000" stroke-width="1.8"/>
<rect x="451.2" y="1415.0" width="17.9" height="11.5" fill="#fff" stroke="#000" stroke-width="1.8"/>
<rect x="488.0" y="1377.6" width="17.9" height="4.4" fill="url(#pv)" stroke="#000" stroke-width="1.8"/>
<rect x="488.0" y="1382.0" width="17.9" height="40.8" fill="#00B0F0" stroke="#000" stroke-width="1.8"/>
<rect x="488.0" y="1422.8" width="17.9" height="10.4" fill="url(#pc)" stroke="#000" stroke-width="1.8"/>
<rect x="488.0" y="1433.2" width="17.9" height="9.6" fill="#fff" stroke="#000" stroke-width="1.8"/>
<rect x="524.8" y="1377.9" width="17.9" height="4.1" fill="url(#pd)" stroke="#000" stroke-width="1.8"/>
<rect x="524.8" y="1369.6" width="17.9" height="8.3" fill="url(#pc)" stroke="#000" stroke-width="1.8"/>
<rect x="524.8" y="1366.4" width="17.9" height="3.2" fill="#fff" stroke="#000" stroke-width="1.8"/>
<rect x="524.8" y="1382.0" width="17.9" height="53.1" fill="#00B0F0" stroke="#000" stroke-width="1.8"/>
<rect x="524.8" y="1435.1" width="17.9" height="13.0" fill="#fff" stroke="#000" stroke-width="1.8"/>
<rect x="561.6" y="1382.0" width="17.9" height="18.6" fill="#00B0F0" stroke="#000" stroke-width="1.8"/>
<rect x="561.6" y="1400.6" width="17.9" height="22.8" fill="url(#pc)" stroke="#000" stroke-width="1.8"/>
<rect x="561.6" y="1423.4" width="17.9" height="5.0" fill="url(#pv)" stroke="#000" stroke-width="1.8"/>
<path d="M184.4 1233.3 V1501.2" stroke="#000" stroke-width="2.6"/>
<path d="M183.1 1382.0 H590.6" stroke="#000" stroke-width="2.6"/>
<path d="M184.4 1499.9 h4" stroke="#000" stroke-width="2.6"/>
<text x="172.4" y="1504.4" font-size="12.80" text-anchor="end" textLength="31.0" lengthAdjust="spacingAndGlyphs" fill="#000">4,000</text>
<text x="122.0" y="1504.5" font-size="13.5" style="font-family:'IPAGothic',sans-serif">▲</text>
<path d="M184.4 1470.4 h4" stroke="#000" stroke-width="2.6"/>
<text x="172.4" y="1474.9" font-size="12.80" text-anchor="end" textLength="31.0" lengthAdjust="spacingAndGlyphs" fill="#000">3,000</text>
<text x="122.0" y="1475.0" font-size="13.5" style="font-family:'IPAGothic',sans-serif">▲</text>
<path d="M184.4 1441.0 h4" stroke="#000" stroke-width="2.6"/>
<text x="172.4" y="1445.5" font-size="12.80" text-anchor="end" textLength="31.0" lengthAdjust="spacingAndGlyphs" fill="#000">2,000</text>
<text x="122.0" y="1445.6" font-size="13.5" style="font-family:'IPAGothic',sans-serif">▲</text>
<path d="M184.4 1411.5 h4" stroke="#000" stroke-width="2.6"/>
<text x="172.4" y="1416.0" font-size="12.80" text-anchor="end" textLength="31.0" lengthAdjust="spacingAndGlyphs" fill="#000">1,000</text>
<text x="122.0" y="1416.1" font-size="13.5" style="font-family:'IPAGothic',sans-serif">▲</text>
<path d="M184.4 1382.0 h4" stroke="#000" stroke-width="2.6"/>
<text x="172.4" y="1386.5" font-size="12.80" text-anchor="end" fill="#000">0</text>
<path d="M184.4 1352.5 h4" stroke="#000" stroke-width="2.6"/>
<text x="172.4" y="1357.0" font-size="12.80" text-anchor="end" textLength="31.0" lengthAdjust="spacingAndGlyphs" fill="#000">1,000</text>
<path d="M184.4 1323.0 h4" stroke="#000" stroke-width="2.6"/>
<text x="172.4" y="1327.5" font-size="12.80" text-anchor="end" textLength="31.0" lengthAdjust="spacingAndGlyphs" fill="#000">2,000</text>
<path d="M184.4 1293.6 h4" stroke="#000" stroke-width="2.6"/>
<text x="172.4" y="1298.1" font-size="12.80" text-anchor="end" textLength="31.0" lengthAdjust="spacingAndGlyphs" fill="#000">3,000</text>
<path d="M184.4 1264.1 h4" stroke="#000" stroke-width="2.6"/>
<text x="172.4" y="1268.6" font-size="12.80" text-anchor="end" textLength="31.0" lengthAdjust="spacingAndGlyphs" fill="#000">4,000</text>
<path d="M184.4 1234.6 h4" stroke="#000" stroke-width="2.6"/>
<text x="172.4" y="1239.1" font-size="12.80" text-anchor="end" textLength="31.0" lengthAdjust="spacingAndGlyphs" fill="#000">5,000</text>
<path d="M221.2 1382.0 v3.6" stroke="#000" stroke-width="3"/>
<path d="M258.0 1382.0 v3.6" stroke="#000" stroke-width="3"/>
<path d="M294.8 1382.0 v3.6" stroke="#000" stroke-width="3"/>
<path d="M331.6 1382.0 v3.6" stroke="#000" stroke-width="3"/>
<path d="M368.4 1382.0 v3.6" stroke="#000" stroke-width="3"/>
<path d="M405.3 1382.0 v3.6" stroke="#000" stroke-width="3"/>
<path d="M442.1 1382.0 v3.6" stroke="#000" stroke-width="3"/>
<path d="M478.9 1382.0 v3.6" stroke="#000" stroke-width="3"/>
<path d="M515.7 1382.0 v3.6" stroke="#000" stroke-width="3"/>
<path d="M552.5 1382.0 v3.6" stroke="#000" stroke-width="3"/>
<path d="M589.3 1382.0 v3.6" stroke="#000" stroke-width="3"/>
<text x="202.8" y="1520.3" font-size="12.80" text-anchor="middle" textLength="14.0" lengthAdjust="spacingAndGlyphs" fill="#000">07</text>
<text x="239.6" y="1520.3" font-size="12.80" text-anchor="middle" textLength="14.0" lengthAdjust="spacingAndGlyphs" fill="#000">08</text>
<text x="276.4" y="1520.3" font-size="12.80" text-anchor="middle" textLength="14.0" lengthAdjust="spacingAndGlyphs" fill="#000">09</text>
<text x="313.2" y="1520.3" font-size="12.80" text-anchor="middle" textLength="14.0" lengthAdjust="spacingAndGlyphs" fill="#000">10</text>
<text x="350.0" y="1520.3" font-size="12.80" text-anchor="middle" textLength="14.0" lengthAdjust="spacingAndGlyphs" fill="#000">11</text>
<text x="386.9" y="1520.3" font-size="12.80" text-anchor="middle" textLength="14.0" lengthAdjust="spacingAndGlyphs" fill="#000">12</text>
<text x="423.7" y="1520.3" font-size="12.80" text-anchor="middle" textLength="14.0" lengthAdjust="spacingAndGlyphs" fill="#000">13</text>
<text x="460.5" y="1520.3" font-size="12.80" text-anchor="middle" textLength="14.0" lengthAdjust="spacingAndGlyphs" fill="#000">14</text>
<text x="497.3" y="1520.3" font-size="12.80" text-anchor="middle" textLength="14.0" lengthAdjust="spacingAndGlyphs" fill="#000">15</text>
<text x="534.1" y="1520.3" font-size="12.80" text-anchor="middle" textLength="14.0" lengthAdjust="spacingAndGlyphs" fill="#000">16</text>
<text x="570.9" y="1520.3" font-size="12.80" text-anchor="middle" textLength="14.0" lengthAdjust="spacingAndGlyphs" fill="#000">17</text>
<polyline points="202.8,1390.0 239.6,1385.7 276.4,1415.4 313.2,1432.1 350.0,1418.7 386.9,1447.9 423.7,1446.9 460.5,1407.2 497.3,1438.2 534.1,1432.6 570.9,1428.0" fill="none" stroke="#FF0000" stroke-width="4.5" stroke-linejoin="round" stroke-linecap="round"/>
<path d="M194.9 1390.0 L202.8 1382.1 L210.7 1390.0 L202.8 1397.9Z" fill="#FF0000"/>
<path d="M231.7 1385.7 L239.6 1377.8 L247.5 1385.7 L239.6 1393.6Z" fill="#FF0000"/>
<path d="M268.5 1415.4 L276.4 1407.5 L284.3 1415.4 L276.4 1423.3Z" fill="#FF0000"/>
<path d="M305.3 1432.1 L313.2 1424.2 L321.1 1432.1 L313.2 1440.0Z" fill="#FF0000"/>
<path d="M342.1 1418.7 L350.0 1410.8 L357.9 1418.7 L350.0 1426.6Z" fill="#FF0000"/>
<path d="M379.0 1447.9 L386.9 1440.0 L394.8 1447.9 L386.9 1455.8Z" fill="#FF0000"/>
<path d="M415.8 1446.9 L423.7 1439.0 L431.6 1446.9 L423.7 1454.8Z" fill="#FF0000"/>
<path d="M452.6 1407.2 L460.5 1399.3 L468.4 1407.2 L460.5 1415.1Z" fill="#FF0000"/>
<path d="M489.4 1438.2 L497.3 1430.3 L505.2 1438.2 L497.3 1446.1Z" fill="#FF0000"/>
<path d="M526.2 1432.6 L534.1 1424.7 L542.0 1432.6 L534.1 1440.5Z" fill="#FF0000"/>
<path d="M563.0 1428.0 L570.9 1420.1 L578.8 1428.0 L570.9 1435.9Z" fill="#FF0000"/>
<text x="127.6 141.5 154.7 168.6" y="1214.8" font-size="14.00" fill="#000">（億円）</text>
<text x="237.3 251.7 266.1 280.5 287.3 302.2 316.6 331.0 345.4 359.9 374.1 389.1" y="1210.2" font-size="14.00" fill="#000">主要行等（国内業務部門）</text>
<text x="525.0 539.4 553.8 568.1" y="1539.7" font-size="14.00" fill="#000">（年度）</text>
<text x="457.0 470.7 485.1 498.6 509.1 519.4 527.3 531.2 538.9 552.9" y="1216.7" font-size="14.00" fill="#000">資金利益：1.8兆円</text>
<text x="473.4 488.0 496.1 503.9 518.5 533.0" y="1236.2" font-size="14.00" fill="#000">（17年度）</text>
<rect x="433.0" y="1195.3" width="157.3" height="48.9" fill="none" stroke="#000" stroke-width="1.6"/>
<rect x="677.8" y="1355.6" width="17.9" height="25.6" fill="url(#pd)" stroke="#000" stroke-width="1.8"/>
<rect x="677.8" y="1336.6" width="17.9" height="19.0" fill="url(#pv)" stroke="#000" stroke-width="1.8"/>
<rect x="677.8" y="1381.2" width="17.9" height="37.9" fill="url(#pc)" stroke="#000" stroke-width="1.8"/>
<rect x="714.6" y="1345.3" width="17.9" height="35.9" fill="url(#pd)" stroke="#000" stroke-width="1.8"/>
<rect x="714.6" y="1381.2" width="17.9" height="11.8" fill="#00B0F0" stroke="#000" stroke-width="1.8"/>
<rect x="714.6" y="1393.0" width="17.9" height="29.5" fill="url(#pc)" stroke="#000" stroke-width="1.8"/>
<rect x="714.6" y="1422.5" width="17.9" height="6.9" fill="url(#pv)" stroke="#000" stroke-width="1.8"/>
<rect x="751.4" y="1366.7" width="17.9" height="14.5" fill="url(#pd)" stroke="#000" stroke-width="1.8"/>
<rect x="751.4" y="1360.6" width="17.9" height="6.1" fill="#fff" stroke="#000" stroke-width="1.8"/>
<rect x="751.4" y="1381.2" width="17.9" height="39.4" fill="#00B0F0" stroke="#000" stroke-width="1.8"/>
<rect x="751.4" y="1420.6" width="17.9" height="16.7" fill="url(#pv)" stroke="#000" stroke-width="1.8"/>
<rect x="788.2" y="1371.0" width="17.9" height="10.2" fill="url(#pd)" stroke="#000" stroke-width="1.8"/>
<rect x="788.2" y="1351.5" width="17.9" height="19.5" fill="#fff" stroke="#000" stroke-width="1.8"/>
<rect x="788.2" y="1381.2" width="17.9" height="26.0" fill="#00B0F0" stroke="#000" stroke-width="1.8"/>
<rect x="788.2" y="1407.2" width="17.9" height="6.0" fill="url(#pc)" stroke="#000" stroke-width="1.8"/>
<rect x="825.0" y="1362.0" width="17.9" height="19.2" fill="url(#pd)" stroke="#000" stroke-width="1.8"/>
<rect x="825.0" y="1345.7" width="17.9" height="16.4" fill="#fff" stroke="#000" stroke-width="1.8"/>
<rect x="825.0" y="1381.2" width="17.9" height="44.5" fill="#00B0F0" stroke="#000" stroke-width="1.8"/>
<rect x="825.0" y="1425.7" width="17.9" height="13.6" fill="url(#pc)" stroke="#000" stroke-width="1.8"/>
<rect x="861.8" y="1357.4" width="17.9" height="23.8" fill="url(#pd)" stroke="#000" stroke-width="1.8"/>
<rect x="861.8" y="1347.5" width="17.9" height="9.9" fill="#fff" stroke="#000" stroke-width="1.8"/>
<rect x="861.8" y="1381.2" width="17.9" height="59.0" fill="#00B0F0" stroke="#000" stroke-width="1.8"/>
<rect x="861.8" y="1440.2" width="17.9" height="15.8" fill="url(#pc)" stroke="#000" stroke-width="1.8"/>
<rect x="898.7" y="1352.4" width="17.9" height="28.8" fill="url(#pd)" stroke="#000" stroke-width="1.8"/>
<rect x="898.7" y="1347.5" width="17.9" height="4.8" fill="#fff" stroke="#000" stroke-width="1.8"/>
<rect x="898.7" y="1381.2" width="17.9" height="64.2" fill="#00B0F0" stroke="#000" stroke-width="1.8"/>
<rect x="898.7" y="1445.4" width="17.9" height="3.7" fill="url(#pc)" stroke="#000" stroke-width="1.8"/>
<rect x="935.5" y="1349.0" width="17.9" height="32.2" fill="url(#pd)" stroke="#000" stroke-width="1.8"/>
<rect x="935.5" y="1341.6" width="17.9" height="7.5" fill="#fff" stroke="#000" stroke-width="1.8"/>
<rect x="935.5" y="1381.2" width="17.9" height="58.4" fill="#00B0F0" stroke="#000" stroke-width="1.8"/>
<rect x="972.3" y="1349.0" width="17.9" height="32.2" fill="url(#pd)" stroke="#000" stroke-width="1.8"/>
<rect x="972.3" y="1381.2" width="17.9" height="56.2" fill="#00B0F0" stroke="#000" stroke-width="1.8"/>
<rect x="972.3" y="1437.4" width="17.9" height="5.2" fill="#fff" stroke="#000" stroke-width="1.8"/>
<rect x="972.3" y="1442.6" width="17.9" height="2.6" fill="url(#pv)" stroke="#000" stroke-width="1.8"/>
<rect x="1009.1" y="1350.3" width="17.9" height="30.9" fill="url(#pd)" stroke="#000" stroke-width="1.8"/>
<rect x="1009.1" y="1344.4" width="17.9" height="6.0" fill="url(#pc)" stroke="#000" stroke-width="1.8"/>
<rect x="1009.1" y="1381.2" width="17.9" height="67.3" fill="#00B0F0" stroke="#000" stroke-width="1.8"/>
<rect x="1009.1" y="1448.5" width="17.9" height="3.7" fill="#fff" stroke="#000" stroke-width="1.8"/>
<rect x="1009.1" y="1452.2" width="17.9" height="2.2" fill="url(#pv)" stroke="#000" stroke-width="1.8"/>
<rect x="1045.9" y="1350.9" width="17.9" height="30.3" fill="url(#pd)" stroke="#000" stroke-width="1.8"/>
<rect x="1045.9" y="1341.6" width="17.9" height="9.3" fill="url(#pc)" stroke="#000" stroke-width="1.8"/>
<rect x="1045.9" y="1381.2" width="17.9" height="42.8" fill="#00B0F0" stroke="#000" stroke-width="1.8"/>
<rect x="1045.9" y="1424.0" width="17.9" height="18.0" fill="#fff" stroke="#000" stroke-width="1.8"/>
<path d="M668.6 1232.5 V1500.4" stroke="#000" stroke-width="2.6"/>
<path d="M667.3 1381.2 H1074.9" stroke="#000" stroke-width="2.6"/>
<path d="M668.6 1499.1 h4" stroke="#000" stroke-width="2.6"/>
<text x="657.2" y="1503.6" font-size="12.80" text-anchor="end" textLength="31.0" lengthAdjust="spacingAndGlyphs" fill="#000">4,000</text>
<text x="607.6" y="1503.7" font-size="13.5" style="font-family:'IPAGothic',sans-serif">▲</text>
<path d="M668.6 1469.6 h4" stroke="#000" stroke-width="2.6"/>
<text x="657.2" y="1474.1" font-size="12.80" text-anchor="end" textLength="31.0" lengthAdjust="spacingAndGlyphs" fill="#000">3,000</text>
<text x="607.6" y="1474.2" font-size="13.5" style="font-family:'IPAGothic',sans-serif">▲</text>
<path d="M668.6 1440.2 h4" stroke="#000" stroke-width="2.6"/>
<text x="657.2" y="1444.7" font-size="12.80" text-anchor="end" textLength="31.0" lengthAdjust="spacingAndGlyphs" fill="#000">2,000</text>
<text x="607.6" y="1444.8" font-size="13.5" style="font-family:'IPAGothic',sans-serif">▲</text>
<path d="M668.6 1410.7 h4" stroke="#000" stroke-width="2.6"/>
<text x="657.2" y="1415.2" font-size="12.80" text-anchor="end" textLength="31.0" lengthAdjust="spacingAndGlyphs" fill="#000">1,000</text>
<text x="607.6" y="1415.3" font-size="13.5" style="font-family:'IPAGothic',sans-serif">▲</text>
<path d="M668.6 1381.2 h4" stroke="#000" stroke-width="2.6"/>
<text x="657.2" y="1385.7" font-size="12.80" text-anchor="end" fill="#000">0</text>
<path d="M668.6 1351.7 h4" stroke="#000" stroke-width="2.6"/>
<text x="657.2" y="1356.2" font-size="12.80" text-anchor="end" textLength="31.0" lengthAdjust="spacingAndGlyphs" fill="#000">1,000</text>
<path d="M668.6 1322.2 h4" stroke="#000" stroke-width="2.6"/>
<text x="657.2" y="1326.7" font-size="12.80" text-anchor="end" textLength="31.0" lengthAdjust="spacingAndGlyphs" fill="#000">2,000</text>
<path d="M668.6 1292.8 h4" stroke="#000" stroke-width="2.6"/>
<text x="657.2" y="1297.3" font-size="12.80" text-anchor="end" textLength="31.0" lengthAdjust="spacingAndGlyphs" fill="#000">3,000</text>
<path d="M668.6 1263.3 h4" stroke="#000" stroke-width="2.6"/>
<text x="657.2" y="1267.8" font-size="12.80" text-anchor="end" textLength="31.0" lengthAdjust="spacingAndGlyphs" fill="#000">4,000</text>
<path d="M668.6 1233.8 h4" stroke="#000" stroke-width="2.6"/>
<text x="657.2" y="1238.3" font-size="12.80" text-anchor="end" textLength="31.0" lengthAdjust="spacingAndGlyphs" fill="#000">5,000</text>
<path d="M705.4 1381.2 v3.6" stroke="#000" stroke-width="3"/>
<path d="M742.2 1381.2 v3.6" stroke="#000" stroke-width="3"/>
<path d="M779.1 1381.2 v3.6" stroke="#000" stroke-width="3"/>
<path d="M815.9 1381.2 v3.6" stroke="#000" stroke-width="3"/>
<path d="M852.7 1381.2 v3.6" stroke="#000" stroke-width="3"/>
<path d="M889.5 1381.2 v3.6" stroke="#000" stroke-width="3"/>
<path d="M926.3 1381.2 v3.6" stroke="#000" stroke-width="3"/>
<path d="M963.1 1381.2 v3.6" stroke="#000" stroke-width="3"/>
<path d="M1000.0 1381.2 v3.6" stroke="#000" stroke-width="3"/>
<path d="M1036.8 1381.2 v3.6" stroke="#000" stroke-width="3"/>
<path d="M1073.6 1381.2 v3.6" stroke="#000" stroke-width="3"/>
<text x="687.0" y="1518.7" font-size="12.80" text-anchor="middle" textLength="14.0" lengthAdjust="spacingAndGlyphs" fill="#000">07</text>
<text x="723.8" y="1518.7" font-size="12.80" text-anchor="middle" textLength="14.0" lengthAdjust="spacingAndGlyphs" fill="#000">08</text>
<text x="760.6" y="1518.7" font-size="12.80" text-anchor="middle" textLength="14.0" lengthAdjust="spacingAndGlyphs" fill="#000">09</text>
<text x="797.5" y="1518.7" font-size="12.80" text-anchor="middle" textLength="14.0" lengthAdjust="spacingAndGlyphs" fill="#000">10</text>
<text x="834.3" y="1518.7" font-size="12.80" text-anchor="middle" textLength="14.0" lengthAdjust="spacingAndGlyphs" fill="#000">11</text>
<text x="871.1" y="1518.7" font-size="12.80" text-anchor="middle" textLength="14.0" lengthAdjust="spacingAndGlyphs" fill="#000">12</text>
<text x="907.9" y="1518.7" font-size="12.80" text-anchor="middle" textLength="14.0" lengthAdjust="spacingAndGlyphs" fill="#000">13</text>
<text x="944.7" y="1518.7" font-size="12.80" text-anchor="middle" textLength="14.0" lengthAdjust="spacingAndGlyphs" fill="#000">14</text>
<text x="981.6" y="1518.7" font-size="12.80" text-anchor="middle" textLength="14.0" lengthAdjust="spacingAndGlyphs" fill="#000">15</text>
<text x="1018.4" y="1518.7" font-size="12.80" text-anchor="middle" textLength="14.0" lengthAdjust="spacingAndGlyphs" fill="#000">16</text>
<text x="1055.2" y="1518.7" font-size="12.80" text-anchor="middle" textLength="14.0" lengthAdjust="spacingAndGlyphs" fill="#000">17</text>
<polyline points="687.0,1375.7 723.8,1392.2 760.6,1416.5 797.5,1384.0 834.3,1403.0 871.1,1421.5 907.9,1415.0 944.7,1401.1 981.6,1411.9 1018.4,1416.9 1055.2,1402.6" fill="none" stroke="#FF0000" stroke-width="4.5" stroke-linejoin="round" stroke-linecap="round"/>
<path d="M679.1 1375.7 L687.0 1367.8 L694.9 1375.7 L687.0 1383.6Z" fill="#FF0000"/>
<path d="M715.9 1392.2 L723.8 1384.3 L731.7 1392.2 L723.8 1400.1Z" fill="#FF0000"/>
<path d="M752.7 1416.5 L760.6 1408.6 L768.5 1416.5 L760.6 1424.4Z" fill="#FF0000"/>
<path d="M789.6 1384.0 L797.5 1376.1 L805.4 1384.0 L797.5 1391.9Z" fill="#FF0000"/>
<path d="M826.4 1403.0 L834.3 1395.1 L842.2 1403.0 L834.3 1410.9Z" fill="#FF0000"/>
<path d="M863.2 1421.5 L871.1 1413.6 L879.0 1421.5 L871.1 1429.4Z" fill="#FF0000"/>
<path d="M900.0 1415.0 L907.9 1407.1 L915.8 1415.0 L907.9 1422.9Z" fill="#FF0000"/>
<path d="M936.8 1401.1 L944.7 1393.2 L952.6 1401.1 L944.7 1409.0Z" fill="#FF0000"/>
<path d="M973.7 1411.9 L981.6 1404.0 L989.5 1411.9 L981.6 1419.8Z" fill="#FF0000"/>
<path d="M1010.5 1416.9 L1018.4 1409.0 L1026.3 1416.9 L1018.4 1424.8Z" fill="#FF0000"/>
<path d="M1047.3 1402.6 L1055.2 1394.7 L1063.1 1402.6 L1055.2 1410.5Z" fill="#FF0000"/>
<text x="611.7 625.9 639.3 653.4" y="1213.2" font-size="14.00" fill="#000">（億円）</text>
<text x="784.5 798.4 812.2 826.2" y="1212.3" font-size="14.00" fill="#000">地域銀行</text>
<text x="1009.7 1024.3 1038.8 1053.3" y="1539.2" font-size="14.00" fill="#000">（年度）</text>
<text x="941.7 955.4 969.8 983.3 993.8 1004.3 1012.0 1015.9 1023.6 1037.6" y="1214.2" font-size="14.00" fill="#000">資金利益：3.5兆円</text>
<text x="958.1 972.7 980.9 988.7 1003.2 1017.8" y="1233.6" font-size="14.00" fill="#000">（17年度）</text>
<rect x="917.5" y="1192.3" width="158.0" height="48.9" fill="none" stroke="#000" stroke-width="1.1"/>
<rect x="159.1" y="1556.7" width="38.1" height="6.6" fill="#00B0F0" stroke="#000" stroke-width="1.4"/>
<text x="203.6 217.7 232.3 245.9 260.2 274.4" y="1565.5" font-size="14.20" fill="#000">貸出利鞘要因</text>
<rect x="311.1" y="1556.7" width="38.9" height="6.6" fill="#fff" stroke="#000" stroke-width="1.4"/>
<text x="356.1 370.1 384.1 398.2 412.3 426.4" y="1565.5" font-size="14.20" fill="#000">貸出残高要因</text>
<rect x="315.6" y="1559.3" width="1.5" height="1.5" fill="#1b3478"/>
<rect x="321.9" y="1559.3" width="1.5" height="1.5" fill="#1b3478"/>
<rect x="328.2" y="1559.3" width="1.5" height="1.5" fill="#1b3478"/>
<rect x="334.6" y="1559.3" width="1.5" height="1.5" fill="#1b3478"/>
<rect x="341.1" y="1559.3" width="1.5" height="1.5" fill="#1b3478"/>
<rect x="347.4" y="1559.3" width="1.5" height="1.5" fill="#1b3478"/>
<rect x="462.7" y="1556.7" width="38.6" height="6.6" fill="#fff" stroke="#000" stroke-width="1.4"/>
<text x="507.4 521.5 535.6 549.8 564.5 578.2 592.6 606.8" y="1565.5" font-size="14.20" fill="#000">有価証券利鞘要因</text>
<rect x="462.7" y="1557.4" width="0.2" height="5.2" fill="#002060"/>
<rect x="468.2" y="1557.4" width="6.6" height="5.2" fill="#002060"/>
<rect x="481.3" y="1557.4" width="6.8" height="5.2" fill="#002060"/>
<rect x="495.2" y="1557.4" width="6.1" height="5.2" fill="#002060"/>
<rect x="643.0" y="1556.7" width="39.0" height="6.6" fill="#fff" stroke="#000" stroke-width="1.4"/>
<text x="686.9 701.2 715.4 729.8 744.2 758.6 773.0 787.4" y="1565.5" font-size="14.20" fill="#000">有価証券残高要因</text>
<rect x="824.3" y="1556.7" width="39.1" height="6.6" fill="#fff" stroke="#000" stroke-width="1.4"/>
<text x="867.5 881.5 896.5" y="1565.5" font-size="14.20" fill="#000">その他</text>
<path d="M825 1557.6 L828.3 1561.8 L831.6 1557.6 L834.9 1561.8 L838.2 1557.6 L841.5 1561.8 L844.8 1557.6 L848.1 1561.8 L851.4 1557.6 L854.7 1561.8 L858.0 1557.6 L861.3 1561.8 M825 1558 H862.5" fill="none" stroke="#1b3478" stroke-width="1.1"/>
<path d="M932.5 1560.0 H971" stroke="#FF0000" stroke-width="4.4" stroke-linecap="round"/>
<path d="M946.8 1560.0 L951.5 1555.2 L956.2 1560.0 L951.5 1564.8Z" fill="#FF0000"/>
<text x="977.2 991.2 1005.9 1019.7 1034.3 1048.3" y="1565.5" font-size="14.20" fill="#000">資金利益増減</text>
<text x="162.2 177.6 190.9 203.3 210.4 225.3 240.0 255.0 268.8 282.7 295.7 309.6 322.3 338.9 346.5 361.0 375.8 390.8 404.6 418.1 431.4 445.2 459.2 474.1 488.9 503.7 518.4 533.6 548.3 562.4 576.5 591.3 605.1 619.6 633.6 646.9 660.4 673.7 689.9" y="1612.3" font-size="14.40" fill="#000">（注１）地域銀行については、期中合併における非存続金融機関の計数は含まれない。</text>
<text x="162.2 177.2 189.5 202.3 209.2 223.6 238.0 252.5 267.4 281.4 295.9 310.6 325.0 338.6 352.5 367.1 381.2 393.7 407.3 419.9 433.3 446.9 461.3 475.8 490.5 504.9 521.6 528.5 543.1 557.6 572.0 585.7 599.6 614.2 628.5 643.1 656.8 670.2 684.8 690.4 705.5 720.1 734.6 749.0 762.7 776.6 791.2 805.5 820.1 833.5 848.0 852.5 860.6 868.5 876.8 885.3 889.6 904.5 918.7 932.9 948.3 956.9" y="1631.3" font-size="14.40" fill="#000">（注２）有価証券利息配当金に計上されている株式配当金、投資信託の解約益等を除く（投資信託の解約益等は 2012 年度以降）。</text>
<text x="162.2 177.6 192.1 207.4 214.2 228.8 243.6" y="1650.3" font-size="14.40" fill="#000">（資料）金融庁</text>
<text x="620.5" y="1707.3" font-size="23" text-anchor="middle" style="font-family:'Liberation Serif',serif">70</text>
</svg></body></html>
